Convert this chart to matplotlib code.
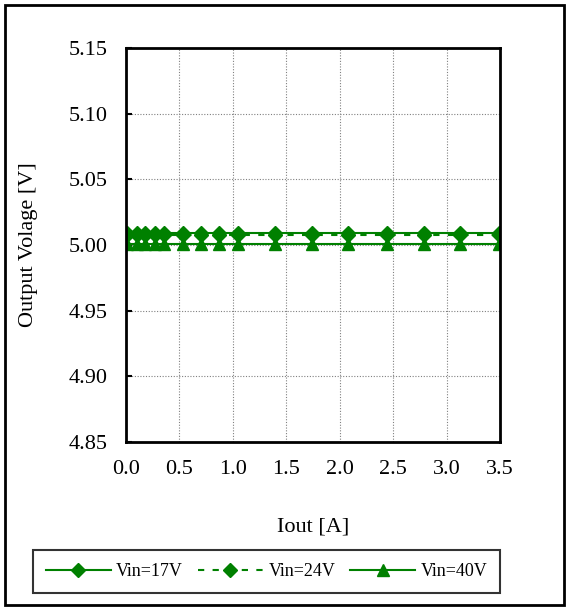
import matplotlib.pyplot as plt
from matplotlib.patches import Rectangle

# load current values
iout = [0.01, 0.10, 0.18, 0.27, 0.36, 0.53, 0.70, 0.87, 1.05, 1.39, 1.74, 2.08, 2.44, 2.79, 3.13, 3.49]
vout_17 = [5.009] * len(iout)
vout_24 = [5.0075] * len(iout)
vout_40 = [5.001] * len(iout)

x_ticks = [0.0, 0.5, 1.0, 1.5, 2.0, 2.5, 3.0, 3.5]
y_ticks = [4.85, 4.90, 4.95, 5.00, 5.05, 5.10, 5.15]

green = '#008000'
plt.rcParams['font.family'] = ['Liberation Serif', 'DejaVu Serif']

fig = plt.figure(figsize=(5.68, 6.09), dpi=100)
ax = fig.add_axes([126 / 568, 1 - 442 / 609, 374 / 568, 394 / 609])

ax.plot(iout, vout_17, color=green, lw=1.5, marker='D', ms=7, label='Vin=17V')
ax.plot(iout, vout_24, color=green, lw=1.5, ls=(0, (3, 4)), marker='D', ms=7, label='Vin=24V')
ax.plot(iout, vout_40, color=green, lw=1.5, marker='^', ms=9, label='Vin=40V')

ax.set_xlim(0, 3.5)
ax.set_ylim(4.85, 5.15)
ax.set_xticks(x_ticks)
ax.set_yticks(y_ticks)
ax.set_xticklabels([f'{v:.1f}' for v in x_ticks], fontsize=16)
ax.set_yticklabels([f'{v:.2f}' for v in y_ticks], fontsize=16)
ax.tick_params(axis='y', direction='in', length=4, width=1.5, pad=13)
ax.tick_params(axis='x', length=0, pad=13)
ax.grid(True, color='#808080', ls=(0, (1, 1.5)), lw=0.8)
for s in ax.spines.values():
    s.set_linewidth(2)

ax.set_xlabel('Iout [A]', fontsize=16, labelpad=28)
ax.set_ylabel('Output Volage [V]', fontsize=16, labelpad=22)

leg = fig.legend(loc='center', bbox_to_anchor=(33 / 568, 13 / 609, 467 / 568, 49 / 609),
                 mode='expand', ncol=3, fontsize=13, frameon=True, fancybox=False,
                 edgecolor='black', handlelength=3.6, handletextpad=0.3,
                 columnspacing=0.8, borderpad=0.7, borderaxespad=0)
leg.get_frame().set_linewidth(1.5)

fig.patches.append(Rectangle((5 / 568, 4 / 609), 559 / 568, 600 / 609, transform=fig.transFigure,
                             fill=False, edgecolor='black', lw=2))

fig.savefig('out.png', dpi=100)
